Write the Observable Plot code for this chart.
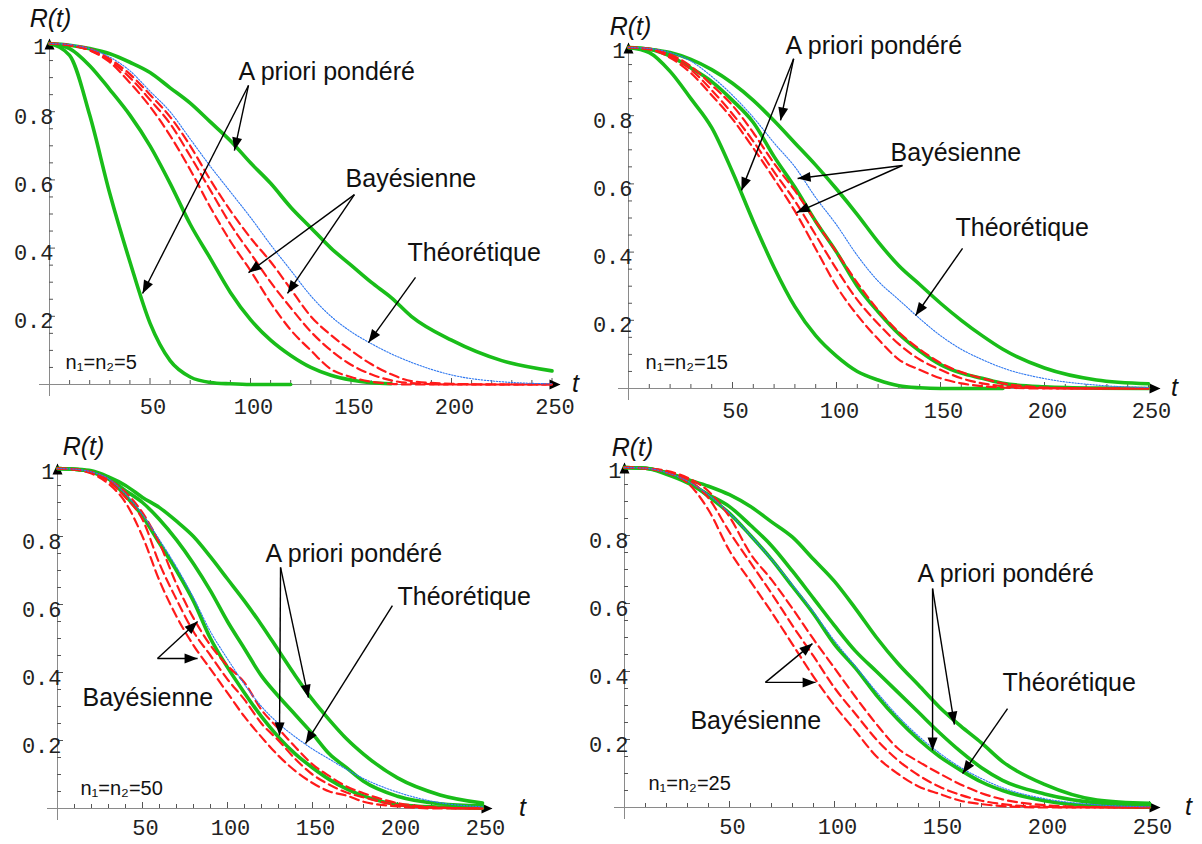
<!DOCTYPE html>
<html>
<head>
<meta charset="utf-8">
<script src="https://cdn.jsdelivr.net/npm/d3@7"></script>
<script src="https://cdn.jsdelivr.net/npm/@observablehq/plot@0.6"></script>
<style>
  body { margin: 0; background: #fff; }
  #chart { position: relative; width: 1202px; height: 844px; overflow: hidden; background: #fff; }
  .panel { position: absolute; }
  .panel svg { overflow: visible; }
</style>
</head>
<body>
<div id="chart"></div>
<script>
// ---------- data ----------
const T = [0,10,20,30,40,50,60,70,80,90,100,110,120,130,140,150,160,170,180,200,225,250];

const xTickValues = [50,100,150,200,250];
const xTickLabels = ["50","100","150","200","250"];
const yTickValues = [0.2,0.4,0.6,0.8];
const yTickLabels = ["0.2","0.4","0.6","0.8"];
const yTopLabel = "1";

// n1=n2=5
const n5_apriori_a = [1,0.965,0.79,0.56,0.36,0.18,0.07,0.022,0.006,0.002,0,0,0,null,null,null,null,null,null,null,null,null];
const n5_apriori_b = [1,0.985,0.935,0.865,0.79,0.7,0.59,0.47,0.37,0.27,0.19,0.13,0.085,0.05,0.027,0.013,0.005,0.002,null,null,null,null];
const n5_apriori_c = [1,0.995,0.985,0.97,0.945,0.915,0.87,0.825,0.77,0.715,0.65,0.59,0.52,0.46,0.4,0.35,0.3,0.255,0.2,0.13,0.07,0.04];
const n5_bayes_a = [1,0.995,0.98,0.945,0.885,0.815,0.73,0.63,0.52,0.42,0.334,0.24,0.16,0.1,0.045,0.022,0.008,0.002,0,0,0,0];
const n5_bayes_b = [1,0.995,0.98,0.95,0.9,0.835,0.765,0.67,0.57,0.47,0.385,0.3,0.225,0.155,0.1,0.058,0.03,0.012,0.004,0,0,0];
const n5_bayes_c = [1,0.995,0.985,0.955,0.91,0.85,0.785,0.7,0.6,0.51,0.43,0.36,0.28,0.2,0.145,0.1,0.06,0.03,0.01,0.002,0,0];
const n5_theory = [1,0.997,0.985,0.96,0.92,0.86,0.8,0.72,0.64,0.565,0.49,0.41,0.335,0.26,0.2,0.155,0.12,0.09,0.065,0.028,0.008,0.002];

// n1=n2=15
const n15_apriori_a = [1,0.985,0.93,0.85,0.765,0.635,0.49,0.355,0.24,0.155,0.095,0.05,0.025,0.008,0.002,0,0,0,0,null,null,null];
const n15_apriori_b = [1,0.995,0.975,0.94,0.9,0.845,0.78,0.68,0.59,0.49,0.4,0.3,0.225,0.16,0.11,0.07,0.045,0.03,0.015,0.005,0.001,0];
const n15_apriori_c = [1,0.995,0.985,0.965,0.935,0.895,0.845,0.785,0.72,0.655,0.585,0.51,0.43,0.36,0.305,0.25,0.2,0.155,0.115,0.06,0.025,0.014];
const n15_bayes_a = [1,0.995,0.97,0.925,0.86,0.79,0.705,0.615,0.52,0.41,0.3,0.215,0.145,0.085,0.055,0.03,0.015,0.007,0.003,0,0,0];
const n15_bayes_b = [1,0.995,0.975,0.935,0.875,0.805,0.725,0.635,0.55,0.45,0.35,0.26,0.19,0.13,0.085,0.055,0.03,0.015,0.007,0.001,0,0];
const n15_bayes_c = [1,0.997,0.98,0.945,0.89,0.83,0.75,0.66,0.58,0.49,0.4,0.31,0.23,0.165,0.115,0.075,0.048,0.03,0.015,0.003,0,0];
const n15_theory = [1,0.997,0.985,0.96,0.915,0.86,0.795,0.72,0.65,0.56,0.48,0.39,0.315,0.26,0.205,0.155,0.115,0.085,0.06,0.029,0.01,0.003];

// n1=n2=50
const n50_apriori_a = [1,0.998,0.99,0.97,0.92,0.86,0.78,0.7,0.61,0.5,0.415,0.34,0.27,0.21,0.16,0.12,0.085,0.058,0.037,0.012,0.004,0.001];
const n50_apriori_b = [1,0.998,0.99,0.97,0.935,0.9,0.85,0.79,0.72,0.64,0.55,0.47,0.39,0.33,0.275,0.22,0.16,0.12,0.08,0.036,0.014,0.008];
const n50_apriori_c = [1,0.998,0.993,0.975,0.95,0.915,0.885,0.845,0.8,0.74,0.675,0.61,0.54,0.465,0.39,0.32,0.26,0.205,0.16,0.09,0.04,0.016];
const n50_bayes_a = [1,0.997,0.985,0.955,0.9,0.8,0.67,0.565,0.48,0.41,0.34,0.27,0.21,0.155,0.11,0.075,0.05,0.038,0.02,0.006,0,0];
const n50_bayes_b = [1,0.997,0.988,0.962,0.915,0.85,0.72,0.615,0.52,0.45,0.38,0.32,0.25,0.2,0.145,0.1,0.07,0.047,0.033,0.01,0.002,0];
const n50_bayes_c = [1,0.998,0.99,0.968,0.93,0.87,0.78,0.66,0.56,0.48,0.42,0.37,0.29,0.235,0.18,0.13,0.095,0.065,0.045,0.016,0.003,0];
const n50_theory = [1,0.998,0.99,0.97,0.925,0.865,0.79,0.71,0.62,0.52,0.44,0.365,0.3,0.25,0.21,0.175,0.145,0.115,0.088,0.048,0.017,0.005];

// n1=n2=25
const n25_apriori_a = [1,0.998,0.985,0.96,0.915,0.865,0.8,0.73,0.65,0.57,0.48,0.41,0.33,0.26,0.2,0.15,0.11,0.075,0.05,0.02,0.004,0.001];
const n25_apriori_b = [1,0.998,0.98,0.955,0.92,0.885,0.83,0.77,0.695,0.615,0.535,0.46,0.4,0.34,0.28,0.22,0.165,0.117,0.08,0.04,0.014,0.007];
const n25_apriori_c = [1,0.998,0.985,0.965,0.945,0.92,0.885,0.84,0.795,0.73,0.665,0.585,0.5,0.425,0.36,0.295,0.24,0.19,0.135,0.068,0.022,0.012];
const n25_bayes_a = [1,0.997,0.985,0.955,0.875,0.755,0.665,0.575,0.48,0.385,0.3,0.225,0.15,0.1,0.062,0.04,0.02,0.01,0.004,0,0,0];
const n25_bayes_b = [1,0.998,0.988,0.965,0.91,0.81,0.72,0.63,0.535,0.445,0.352,0.275,0.2,0.14,0.095,0.061,0.037,0.02,0.01,0.002,0,0];
const n25_bayes_c = [1,0.998,0.99,0.97,0.93,0.855,0.746,0.67,0.585,0.495,0.41,0.325,0.245,0.175,0.135,0.1,0.068,0.042,0.024,0.007,0.001,0];
const n25_theory = [1,0.998,0.985,0.96,0.92,0.865,0.8,0.73,0.655,0.575,0.49,0.415,0.34,0.27,0.21,0.16,0.118,0.085,0.058,0.026,0.008,0.002];

// annotation texts (t, R of label start) and arrows (from -> to), in data units
const n5_text = ["A priori pondéré","Bayésienne","Théorétique"];
const n5_text_t = [94, 147.3, 178.1];
const n5_text_R = [0.915, 0.604, 0.387];
const n5_arrow_t1 = [99, 99, 151.7, 151.7, 182.1];
const n5_arrow_R1 = [0.877, 0.877, 0.557, 0.557, 0.314];
const n5_arrow_t2 = [46.3, 92, 99, 118.4, 158.7];
const n5_arrow_R2 = [0.267, 0.686, 0.328, 0.267, 0.123];

const n15_text = ["A priori pondéré","Bayésienne","Théorétique"];
const n15_text_t = [75.5, 126, 157.2];
const n15_text_R = [1.003, 0.692, 0.472];
const n15_arrow_t1 = [79.4, 79.4, 131.7, 131.7, 160.6];
const n15_arrow_R1 = [0.967, 0.967, 0.654, 0.654, 0.411];
const n15_arrow_t2 = [54.3, 73.1, 81.3, 80.8, 138];
const n15_arrow_R2 = [0.581, 0.786, 0.616, 0.516, 0.214];

const n50_text = ["A priori pondéré","Théorétique","Bayésienne"];
const n50_text_t = [122.4, 200, 14.7];
const n50_text_R = [0.75, 0.621, 0.326];
const n50_arrow_t1 = [131.2, 131.2, 197, 58.8, 58.8];
const n50_arrow_R1 = [0.709, 0.709, 0.597, 0.441, 0.441];
const n50_arrow_t2 = [130.6, 147.6, 145.9, 82.4, 82.4];
const n50_arrow_R2 = [0.215, 0.326, 0.191, 0.55, 0.441];

const n25_text = ["A priori pondéré","Théorétique","Bayésienne"];
const n25_text_t = [139.5, 180, 31.4];
const n25_text_R = [0.688, 0.365, 0.253];
const n25_arrow_t1 = [146.7, 146.7, 182.4, 67.1, 67.1];
const n25_arrow_R1 = [0.644, 0.644, 0.291, 0.368, 0.368];
const n25_arrow_t2 = [146.7, 157.1, 161, 89.5, 91];
const n25_arrow_R2 = [0.168, 0.244, 0.1, 0.482, 0.368];

const sampleLabels = ["n₁=n₂=5","n₁=n₂=15","n₁=n₂=50","n₁=n₂=25"];
const sampleLabel_t = [8, 8.2, 13.5, 11.4];
const sampleLabel_R = [0.065, 0.076, 0.059, 0.07];

// ---------- layout ----------
const panels = [
  {left:0,   top:0,   width:600, height:422, ml:49, mr:48.5, mt:43, mb:38, rdx:1,  rdy:-25, tdx:23.5, tip:8.5, xdy:22,
   apriori:[n5_apriori_a,n5_apriori_b,n5_apriori_c], bayes:[n5_bayes_a,n5_bayes_b,n5_bayes_c], theory:n5_theory,
   text:n5_text, text_t:n5_text_t, text_R:n5_text_R, a_t1:n5_arrow_t1, a_R1:n5_arrow_R1, a_t2:n5_arrow_t2, a_R2:n5_arrow_R2, k:0},
  {left:590, top:0,   width:612, height:422, ml:38, mr:54, mt:47, mb:34, rdx:2,  rdy:-21, tdx:26, tip:12, xdy:22,
   apriori:[n15_apriori_a,n15_apriori_b,n15_apriori_c], bayes:[n15_bayes_a,n15_bayes_b,n15_bayes_c], theory:n15_theory,
   text:n15_text, text_t:n15_text_t, text_R:n15_text_R, a_t1:n15_arrow_t1, a_R1:n15_arrow_R1, a_t2:n15_arrow_t2, a_R2:n15_arrow_R2, k:1},
  {left:0,   top:422, width:600, height:422, ml:57, mr:118, mt:46, mb:36, rdx:26, rdy:-22, tdx:40, tip:10, xdy:19,
   apriori:[n50_apriori_a,n50_apriori_b,n50_apriori_c], bayes:[n50_bayes_a,n50_bayes_b,n50_bayes_c], theory:n50_theory,
   text:n50_text, text_t:n50_text_t, text_R:n50_text_R, a_t1:n50_arrow_t1, a_R1:n50_arrow_R1, a_t2:n50_arrow_t2, a_R2:n50_arrow_R2, k:2},
  {left:590, top:422, width:612, height:422, ml:34, mr:53, mt:45, mb:37, rdx:8,  rdy:-20, tdx:39, tip:11, xdy:19,
   apriori:[n25_apriori_a,n25_apriori_b,n25_apriori_c], bayes:[n25_bayes_a,n25_bayes_b,n25_bayes_c], theory:n25_theory,
   text:n25_text, text_t:n25_text_t, text_R:n25_text_R, a_t1:n25_arrow_t1, a_R1:n25_arrow_R1, a_t2:n25_arrow_t2, a_R2:n25_arrow_R2, k:3}
];

// filled arrowhead symbols, tip at origin, pointing up
const headSymbol = {draw(ctx) { ctx.moveTo(0, 0); ctx.lineTo(-5, 13); ctx.lineTo(5, 13); ctx.closePath(); }};
const axisHeadSymbol = {draw(ctx) { ctx.moveTo(0, 0); ctx.lineTo(-5, 11); ctx.lineTo(5, 11); ctx.closePath(); }};

const SANS = "Liberation Sans, Arial, Helvetica, sans-serif";
const MONO = "Liberation Mono, Courier New, monospace";

function drawPanel(p) {
  const kx = (p.width - p.ml - p.mr) / 250;   // px per t unit
  const ky = (p.height - p.mt - p.mb);        // px per R unit
  const rows = (arr, key) => T.map((t, i) => ({t, R: arr[i], key})).filter(d => d.R != null);
  const green = p.apriori.flatMap((a, i) => rows(a, "g" + i));
  const red = p.bayes.flatMap((a, i) => rows(a, "r" + i));
  const blue = rows(p.theory, "b");
  const arrows = p.a_t1.map((t1, i) => {
    const a = {t1, R1: p.a_R1[i], t2: p.a_t2[i], R2: p.a_R2[i]};
    a.angle = Math.atan2((a.t2 - a.t1) * kx, (a.R2 - a.R1) * ky) * 180 / Math.PI;
    return a;
  });
  const labels = p.text.map((s, i) => ({s, t: p.text_t[i], R: p.text_R[i]}));
  const xTicks = d3.range(10, 251, 10);
  const yTicks = d3.range(1, 21).map(i => +(i * 0.05).toFixed(2));
  const xLab = xTickValues.map((v, i) => ({v, s: xTickLabels[i]}));
  const yLab = yTickValues.map((v, i) => ({v, s: yTickLabels[i]}));

  return Plot.plot({
    width: p.width, height: p.height,
    marginLeft: p.ml, marginRight: p.mr, marginTop: p.mt, marginBottom: p.mb,
    x: {domain: [0, 250], axis: null},
    y: {domain: [0, 1], axis: null},
    style: {background: "transparent", overflow: "visible"},
    marks: [
      // axes
      Plot.ruleX([0], {x: d => d, y1: () => -12 / ky, y2: () => 1 + 4 / ky, stroke: "#8a8a8a", strokeWidth: 1}),
      Plot.ruleY([0], {y: d => d, x1: () => -10 / kx, x2: () => 250 + p.tip / kx, stroke: "#8a8a8a", strokeWidth: 1}),
      Plot.ruleY(yTicks, {y: d => d, x1: () => 0, x2: d => (Math.abs(d * 5 - Math.round(d * 5)) < 1e-6 ? 6 : 4) / kx, stroke: "#555", strokeWidth: 1}),
      Plot.ruleX(xTicks, {x: d => d, y1: () => 0, y2: d => (d % 50 === 0 ? 6 : 4) / ky, stroke: "#555", strokeWidth: 1}),
      Plot.text(xLab, {x: "v", y: () => 0, text: "s", dy: p.xdy, dx: 3, fontFamily: MONO, fontSize: 22, fill: "#222"}),
      Plot.text(yLab, {x: () => 0, y: "v", text: "s", textAnchor: "end", dx: 4, dy: 5, fontFamily: MONO, fontSize: 22, fill: "#222"}),
      Plot.text([yTopLabel], {x: () => 0, y: () => 1, text: d => d, textAnchor: "end", dx: -3, dy: 3, fontFamily: MONO, fontSize: 22, fill: "#222"}),
      Plot.dot([0], {x: () => 0, y: () => 1 + 5 / ky, symbol: axisHeadSymbol, r: 5, rotate: 0, fill: "black", stroke: "none"}),
      Plot.dot([0], {x: () => 250 + p.tip / kx, y: () => 0, symbol: axisHeadSymbol, r: 5, rotate: 90, fill: "black", stroke: "none"}),
      Plot.text(["R(t)"], {x: () => 0, y: () => 1, text: d => d, dx: p.rdx, dy: p.rdy, fontFamily: SANS, fontStyle: "italic", fontSize: 25, fill: "#111"}),
      Plot.text(["t"], {x: () => 250, y: () => 0, text: d => d, dx: p.tdx, dy: -1, fontFamily: SANS, fontStyle: "italic", fontSize: 25, fill: "#111"}),
      // curves
      Plot.line(green, {x: "t", y: "R", z: "key", stroke: "#19bd19", strokeWidth: 3.6, curve: "monotone-x"}),
      Plot.line(red, {x: "t", y: "R", z: "key", stroke: "#ff1a1a", strokeWidth: 2.2, strokeDasharray: "9,5", curve: "monotone-x"}),
      Plot.line(blue, {x: "t", y: "R", z: "key", stroke: "#2f78f0", strokeWidth: 1.1, strokeDasharray: "1.5,1.5", curve: "monotone-x"}),
      // sample-size label
      Plot.text([sampleLabels[p.k]], {x: () => sampleLabel_t[p.k], y: () => sampleLabel_R[p.k], text: d => d, textAnchor: "start", fontFamily: SANS, fontSize: 20, fill: "#111"}),
      // annotations
      Plot.link(arrows, {x1: "t1", y1: "R1", x2: "t2", y2: "R2", stroke: "black", strokeWidth: 1.4}),
      Plot.dot(arrows, {x: "t2", y: "R2", rotate: "angle", symbol: headSymbol, r: 5, fill: "black", stroke: "none"}),
      Plot.text(labels, {x: "t", y: "R", text: "s", textAnchor: "start", fontFamily: SANS, fontSize: 25, fill: "#111"})
    ]
  });
}

const chart = document.getElementById("chart");
for (const p of panels) {
  const div = document.createElement("div");
  div.className = "panel";
  div.style.left = p.left + "px";
  div.style.top = p.top + "px";
  div.appendChild(drawPanel(p));
  chart.appendChild(div);
}
</script>
</body>
</html>
